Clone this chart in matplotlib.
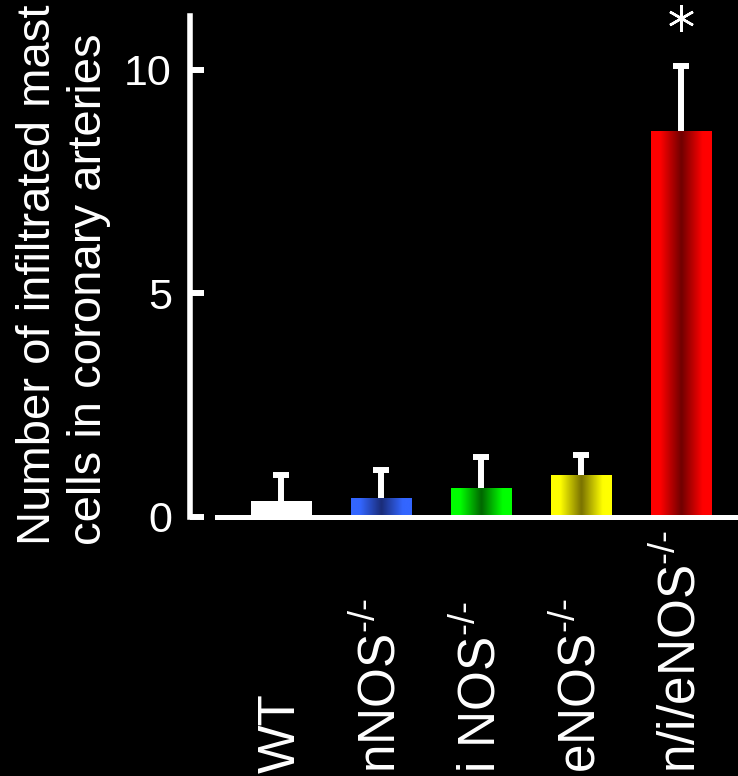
import numpy as np
import matplotlib
matplotlib.use("Agg")
from matplotlib import pyplot as plt
from matplotlib.colors import LinearSegmentedColormap

plt.rcParams['font.family'] = ['Liberation Sans', 'DejaVu Sans']
plt.rcParams['mathtext.fontset'] = 'custom'
plt.rcParams['mathtext.rm'] = 'Liberation Sans'
plt.rcParams['mathtext.it'] = 'Liberation Sans'

groups = ["WT", r"nNOS$^{\text{-/-}}$", r"i NOS$^{\text{-/-}}$",
          r"eNOS$^{\text{-/-}}$", r"n/i/eNOS$^{\text{-/-}}$"]
mast_cells = [0.35, 0.42, 0.65, 0.94, 8.64]
sem = [0.60, 0.62, 0.70, 0.45, 1.44]
edge_colors = ["#ffffff", "#3366ff", "#00ff00", "#ffff00", "#ff0000"]
mid_colors = ["#ffffff", "#1a2c78", "#006600", "#7a7200", "#700000"]

BG = "black"
FG = "white"

fig = plt.figure(figsize=(7.38, 7.76), dpi=100, facecolor=BG)
ax = fig.add_axes([190 / 738, 259 / 776, 548 / 738, 501 / 776])
ax.set_facecolor(BG)

x = np.arange(len(groups))
bars = ax.bar(x, mast_cells, width=0.61, color="none", linewidth=0, zorder=2)

# horizontal shading inside each bar: bright edges, dark middle
for bar, c_edge, c_mid in zip(bars, edge_colors, mid_colors):
    cmap = LinearSegmentedColormap.from_list(
        "shade", [(0, c_edge), (0.15, c_edge), (0.5, c_mid), (0.85, c_edge), (1, c_edge)])
    grad = np.linspace(0, 1, 256).reshape(1, -1)
    x0, y0 = bar.get_x(), bar.get_y()
    im = ax.imshow(grad, cmap=cmap, aspect="auto", interpolation="bicubic",
                   extent=(x0, x0 + bar.get_width(), y0, y0 + bar.get_height()),
                   zorder=2)
    im.set_clip_path(bar)

# upper error bars only
tops = np.array(mast_cells) + np.array(sem)
ax.vlines(x, mast_cells, tops, color=FG, linewidth=4.3, zorder=3)
ax.plot(x, tops, linestyle="none", marker="_", markersize=12.2,
        markeredgewidth=4.3, color=FG, zorder=3)

# significance mark over the triple knockout
ax.plot(x[-1], tops[-1] + 1.08, marker=(6, 2, 0), markersize=19,
        markeredgewidth=1.8, color=FG, clip_on=False, zorder=4)

ax.set_xlim(-0.91, 4.57)
ax.set_ylim(0, 11.2)

for side in ("top", "right"):
    ax.spines[side].set_visible(False)
ax.spines["left"].set_color(FG)
ax.spines["left"].set_linewidth(4)
ax.spines["bottom"].set_color(FG)
ax.spines["bottom"].set_linewidth(3.6)
ax.spines["bottom"].set_bounds(-0.64, 4.57)

ax.set_yticks([0, 5, 10])
ax.tick_params(axis="y", direction="in", length=10, width=4.3, colors=FG,
               labelsize=31, pad=13)
ax.set_xticks([])

trans = matplotlib.transforms.blended_transform_factory(ax.transData, fig.transFigure)
for xi, name in zip(x, groups):
    ax.text(xi, 0.004, name, transform=trans, rotation=90, ha="center",
            va="bottom", color=FG, fontsize=37, clip_on=False)

fig.text(0.022, 0.298, "Number of infiltrated mast\ncells in coronary arteries",
         rotation=90, ha="left", va="bottom", multialignment="left",
         color=FG, fontsize=34, linespacing=1.2)

fig.savefig("out.png", dpi=100, facecolor=BG)
